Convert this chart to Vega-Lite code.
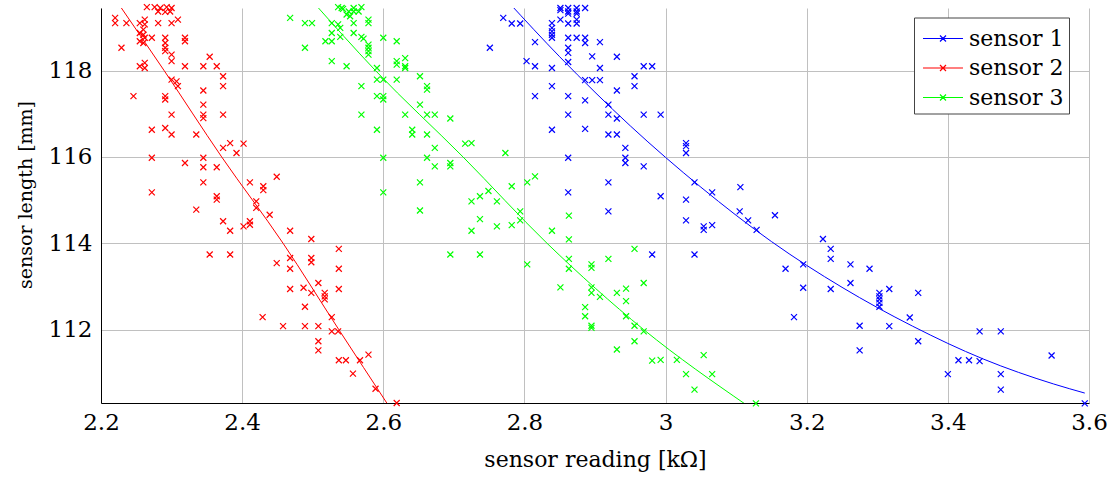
{
  "$schema": "https://vega.github.io/schema/vega-lite/v6.json",
  "width": 988,
  "height": 395,
  "autosize": {"type": "none"},
  "padding": {"left": 101, "top": 8, "right": 27, "bottom": 74},
  "background": "white",
  "config": {"view": {"stroke": null}, "font": "DejaVu Serif"},
  "datasets": {
    "fit": [
      {"s": "sensor 1", "x": 2.776, "y": 119.61}, {"s": "sensor 1", "x": 2.85, "y": 118.32}, {"s": "sensor 1", "x": 2.95, "y": 116.72}, {"s": "sensor 1", "x": 3.05, "y": 115.30}, {"s": "sensor 1", "x": 3.15, "y": 114.04}, {"s": "sensor 1", "x": 3.25, "y": 112.98}, {"s": "sensor 1", "x": 3.35, "y": 112.08}, {"s": "sensor 1", "x": 3.45, "y": 111.32}, {"s": "sensor 1", "x": 3.55, "y": 110.74}, {"s": "sensor 1", "x": 3.594, "y": 110.53},
      {"s": "sensor 2", "x": 2.2226, "y": 119.6}, {"s": "sensor 2", "x": 2.2895, "y": 118.0}, {"s": "sensor 2", "x": 2.371, "y": 116.0}, {"s": "sensor 2", "x": 2.458, "y": 114.0}, {"s": "sensor 2", "x": 2.537, "y": 112.0}, {"s": "sensor 2", "x": 2.607, "y": 110.25},
      {"s": "sensor 3", "x": 2.5, "y": 119.6}, {"s": "sensor 3", "x": 2.589, "y": 118.0}, {"s": "sensor 3", "x": 2.713, "y": 116.0}, {"s": "sensor 3", "x": 2.832, "y": 114.0}, {"s": "sensor 3", "x": 2.969, "y": 112.0}, {"s": "sensor 3", "x": 3.115, "y": 110.25}
    ],
    "pts": [
      {"s": "sensor 1", "x": 2.751, "y": 118.53}, {"s": "sensor 1", "x": 2.770, "y": 119.22}, {"s": "sensor 1", "x": 2.782, "y": 119.09}, {"s": "sensor 1", "x": 2.794, "y": 119.09},
      {"s": "sensor 1", "x": 2.851, "y": 119.45}, {"s": "sensor 1", "x": 2.862, "y": 119.45}, {"s": "sensor 1", "x": 2.874, "y": 119.45}, {"s": "sensor 1", "x": 2.886, "y": 119.45}, {"s": "sensor 1", "x": 2.862, "y": 119.37}, {"s": "sensor 1", "x": 2.874, "y": 119.37}, {"s": "sensor 1", "x": 2.862, "y": 119.32}, {"s": "sensor 1", "x": 2.874, "y": 119.32}, {"s": "sensor 1", "x": 2.851, "y": 119.40},
      {"s": "sensor 1", "x": 2.851, "y": 119.18}, {"s": "sensor 1", "x": 2.862, "y": 119.09}, {"s": "sensor 1", "x": 2.874, "y": 119.18}, {"s": "sensor 1", "x": 2.874, "y": 119.09}, {"s": "sensor 1", "x": 2.839, "y": 119.10}, {"s": "sensor 1", "x": 2.839, "y": 118.99}, {"s": "sensor 1", "x": 2.839, "y": 118.91}, {"s": "sensor 1", "x": 2.839, "y": 118.83}, {"s": "sensor 1", "x": 2.839, "y": 118.76},
      {"s": "sensor 1", "x": 2.815, "y": 118.66}, {"s": "sensor 1", "x": 2.862, "y": 118.76}, {"s": "sensor 1", "x": 2.874, "y": 118.76}, {"s": "sensor 1", "x": 2.886, "y": 118.76}, {"s": "sensor 1", "x": 2.886, "y": 118.64}, {"s": "sensor 1", "x": 2.907, "y": 118.66},
      {"s": "sensor 1", "x": 2.862, "y": 118.53}, {"s": "sensor 1", "x": 2.862, "y": 118.41}, {"s": "sensor 1", "x": 2.896, "y": 118.33}, {"s": "sensor 1", "x": 2.931, "y": 118.32}, {"s": "sensor 1", "x": 2.803, "y": 118.22}, {"s": "sensor 1", "x": 2.815, "y": 118.10}, {"s": "sensor 1", "x": 2.839, "y": 118.06}, {"s": "sensor 1", "x": 2.862, "y": 118.20}, {"s": "sensor 1", "x": 2.907, "y": 118.06}, {"s": "sensor 1", "x": 2.969, "y": 118.10}, {"s": "sensor 1", "x": 2.981, "y": 118.10},
      {"s": "sensor 1", "x": 2.956, "y": 117.87}, {"s": "sensor 1", "x": 2.956, "y": 117.64}, {"s": "sensor 1", "x": 2.886, "y": 117.78}, {"s": "sensor 1", "x": 2.896, "y": 117.78}, {"s": "sensor 1", "x": 2.907, "y": 117.78}, {"s": "sensor 1", "x": 2.839, "y": 117.64}, {"s": "sensor 1", "x": 2.815, "y": 117.41}, {"s": "sensor 1", "x": 2.862, "y": 117.41}, {"s": "sensor 1", "x": 2.886, "y": 117.31}, {"s": "sensor 1", "x": 2.931, "y": 117.54},
      {"s": "sensor 1", "x": 2.919, "y": 117.21}, {"s": "sensor 1", "x": 2.862, "y": 116.98}, {"s": "sensor 1", "x": 2.919, "y": 116.98}, {"s": "sensor 1", "x": 2.931, "y": 116.89}, {"s": "sensor 1", "x": 2.969, "y": 116.98}, {"s": "sensor 1", "x": 2.993, "y": 116.98},
      {"s": "sensor 1", "x": 2.839, "y": 116.63}, {"s": "sensor 1", "x": 2.886, "y": 116.65}, {"s": "sensor 1", "x": 2.919, "y": 116.52}, {"s": "sensor 1", "x": 2.931, "y": 116.52}, {"s": "sensor 1", "x": 2.943, "y": 116.21}, {"s": "sensor 1", "x": 2.943, "y": 115.98}, {"s": "sensor 1", "x": 2.943, "y": 115.86},
      {"s": "sensor 1", "x": 3.029, "y": 116.32}, {"s": "sensor 1", "x": 3.029, "y": 116.25}, {"s": "sensor 1", "x": 3.029, "y": 116.09}, {"s": "sensor 1", "x": 2.969, "y": 115.78}, {"s": "sensor 1", "x": 2.862, "y": 115.98}, {"s": "sensor 1", "x": 2.862, "y": 115.18}, {"s": "sensor 1", "x": 2.919, "y": 115.41}, {"s": "sensor 1", "x": 3.041, "y": 115.41}, {"s": "sensor 1", "x": 3.066, "y": 115.18}, {"s": "sensor 1", "x": 3.106, "y": 115.30}, {"s": "sensor 1", "x": 2.993, "y": 115.09}, {"s": "sensor 1", "x": 3.029, "y": 115.01},
      {"s": "sensor 1", "x": 2.919, "y": 114.74}, {"s": "sensor 1", "x": 3.029, "y": 114.53}, {"s": "sensor 1", "x": 3.054, "y": 114.39}, {"s": "sensor 1", "x": 3.054, "y": 114.31}, {"s": "sensor 1", "x": 3.066, "y": 114.42}, {"s": "sensor 1", "x": 2.981, "y": 113.74}, {"s": "sensor 1", "x": 3.041, "y": 113.74}, {"s": "sensor 1", "x": 3.105, "y": 114.74}, {"s": "sensor 1", "x": 3.117, "y": 114.53}, {"s": "sensor 1", "x": 3.129, "y": 114.31}, {"s": "sensor 1", "x": 3.155, "y": 114.65},
      {"s": "sensor 1", "x": 3.223, "y": 114.10}, {"s": "sensor 1", "x": 3.234, "y": 113.87}, {"s": "sensor 1", "x": 3.234, "y": 113.64}, {"s": "sensor 1", "x": 3.262, "y": 113.51}, {"s": "sensor 1", "x": 3.289, "y": 113.41}, {"s": "sensor 1", "x": 3.170, "y": 113.41}, {"s": "sensor 1", "x": 3.195, "y": 113.51}, {"s": "sensor 1", "x": 3.195, "y": 112.97}, {"s": "sensor 1", "x": 3.234, "y": 112.94}, {"s": "sensor 1", "x": 3.262, "y": 113.08},
      {"s": "sensor 1", "x": 3.303, "y": 112.85}, {"s": "sensor 1", "x": 3.303, "y": 112.77}, {"s": "sensor 1", "x": 3.303, "y": 112.70}, {"s": "sensor 1", "x": 3.303, "y": 112.62}, {"s": "sensor 1", "x": 3.303, "y": 112.53}, {"s": "sensor 1", "x": 3.317, "y": 112.94}, {"s": "sensor 1", "x": 3.182, "y": 112.29}, {"s": "sensor 1", "x": 3.275, "y": 112.09}, {"s": "sensor 1", "x": 3.317, "y": 112.08}, {"s": "sensor 1", "x": 3.275, "y": 111.52},
      {"s": "sensor 1", "x": 3.358, "y": 112.85}, {"s": "sensor 1", "x": 3.346, "y": 112.28}, {"s": "sensor 1", "x": 3.358, "y": 111.73}, {"s": "sensor 1", "x": 3.445, "y": 111.96}, {"s": "sensor 1", "x": 3.475, "y": 111.96}, {"s": "sensor 1", "x": 3.400, "y": 110.97}, {"s": "sensor 1", "x": 3.415, "y": 111.29}, {"s": "sensor 1", "x": 3.430, "y": 111.29}, {"s": "sensor 1", "x": 3.445, "y": 111.27}, {"s": "sensor 1", "x": 3.475, "y": 110.97}, {"s": "sensor 1", "x": 3.475, "y": 110.61}, {"s": "sensor 1", "x": 3.547, "y": 111.40}, {"s": "sensor 1", "x": 3.594, "y": 110.29},

      {"s": "sensor 2", "x": 2.265, "y": 119.47}, {"s": "sensor 2", "x": 2.276, "y": 119.47}, {"s": "sensor 2", "x": 2.284, "y": 119.45}, {"s": "sensor 2", "x": 2.293, "y": 119.47}, {"s": "sensor 2", "x": 2.300, "y": 119.45}, {"s": "sensor 2", "x": 2.281, "y": 119.37}, {"s": "sensor 2", "x": 2.291, "y": 119.36}, {"s": "sensor 2", "x": 2.298, "y": 119.37},
      {"s": "sensor 2", "x": 2.220, "y": 119.22}, {"s": "sensor 2", "x": 2.220, "y": 119.10}, {"s": "sensor 2", "x": 2.236, "y": 119.10}, {"s": "sensor 2", "x": 2.255, "y": 119.10}, {"s": "sensor 2", "x": 2.262, "y": 119.18}, {"s": "sensor 2", "x": 2.262, "y": 119.07}, {"s": "sensor 2", "x": 2.281, "y": 119.10}, {"s": "sensor 2", "x": 2.300, "y": 119.10}, {"s": "sensor 2", "x": 2.309, "y": 119.18},
      {"s": "sensor 2", "x": 2.260, "y": 118.95}, {"s": "sensor 2", "x": 2.260, "y": 118.83}, {"s": "sensor 2", "x": 2.255, "y": 118.87}, {"s": "sensor 2", "x": 2.262, "y": 118.76}, {"s": "sensor 2", "x": 2.272, "y": 118.76}, {"s": "sensor 2", "x": 2.255, "y": 118.68}, {"s": "sensor 2", "x": 2.260, "y": 118.64},
      {"s": "sensor 2", "x": 2.291, "y": 118.76}, {"s": "sensor 2", "x": 2.291, "y": 118.64}, {"s": "sensor 2", "x": 2.291, "y": 118.53}, {"s": "sensor 2", "x": 2.291, "y": 118.45}, {"s": "sensor 2", "x": 2.319, "y": 118.76}, {"s": "sensor 2", "x": 2.319, "y": 118.68}, {"s": "sensor 2", "x": 2.229, "y": 118.53},
      {"s": "sensor 2", "x": 2.300, "y": 118.37}, {"s": "sensor 2", "x": 2.300, "y": 118.22}, {"s": "sensor 2", "x": 2.255, "y": 118.10}, {"s": "sensor 2", "x": 2.262, "y": 118.18}, {"s": "sensor 2", "x": 2.262, "y": 118.06}, {"s": "sensor 2", "x": 2.319, "y": 118.10}, {"s": "sensor 2", "x": 2.345, "y": 118.10}, {"s": "sensor 2", "x": 2.354, "y": 118.32}, {"s": "sensor 2", "x": 2.364, "y": 118.10},
      {"s": "sensor 2", "x": 2.373, "y": 117.87}, {"s": "sensor 2", "x": 2.373, "y": 117.64}, {"s": "sensor 2", "x": 2.300, "y": 117.79}, {"s": "sensor 2", "x": 2.307, "y": 117.75}, {"s": "sensor 2", "x": 2.309, "y": 117.64}, {"s": "sensor 2", "x": 2.345, "y": 117.54}, {"s": "sensor 2", "x": 2.246, "y": 117.41}, {"s": "sensor 2", "x": 2.291, "y": 117.41}, {"s": "sensor 2", "x": 2.291, "y": 117.33},
      {"s": "sensor 2", "x": 2.345, "y": 117.21}, {"s": "sensor 2", "x": 2.345, "y": 116.98}, {"s": "sensor 2", "x": 2.345, "y": 116.90}, {"s": "sensor 2", "x": 2.300, "y": 116.98}, {"s": "sensor 2", "x": 2.373, "y": 116.98}, {"s": "sensor 2", "x": 2.272, "y": 116.63}, {"s": "sensor 2", "x": 2.291, "y": 116.67}, {"s": "sensor 2", "x": 2.300, "y": 116.52}, {"s": "sensor 2", "x": 2.335, "y": 116.52},
      {"s": "sensor 2", "x": 2.383, "y": 116.32}, {"s": "sensor 2", "x": 2.402, "y": 116.31}, {"s": "sensor 2", "x": 2.392, "y": 116.09}, {"s": "sensor 2", "x": 2.373, "y": 116.21}, {"s": "sensor 2", "x": 2.272, "y": 115.98}, {"s": "sensor 2", "x": 2.345, "y": 115.98}, {"s": "sensor 2", "x": 2.345, "y": 115.76}, {"s": "sensor 2", "x": 2.364, "y": 115.76}, {"s": "sensor 2", "x": 2.319, "y": 115.86},
      {"s": "sensor 2", "x": 2.345, "y": 115.41}, {"s": "sensor 2", "x": 2.449, "y": 115.54}, {"s": "sensor 2", "x": 2.411, "y": 115.41}, {"s": "sensor 2", "x": 2.430, "y": 115.32}, {"s": "sensor 2", "x": 2.430, "y": 115.23}, {"s": "sensor 2", "x": 2.272, "y": 115.18}, {"s": "sensor 2", "x": 2.364, "y": 115.09}, {"s": "sensor 2", "x": 2.364, "y": 115.01}, {"s": "sensor 2", "x": 2.420, "y": 114.97}, {"s": "sensor 2", "x": 2.420, "y": 114.82}, {"s": "sensor 2", "x": 2.335, "y": 114.78},
      {"s": "sensor 2", "x": 2.373, "y": 114.51}, {"s": "sensor 2", "x": 2.383, "y": 114.29}, {"s": "sensor 2", "x": 2.402, "y": 114.39}, {"s": "sensor 2", "x": 2.411, "y": 114.43}, {"s": "sensor 2", "x": 2.411, "y": 114.51}, {"s": "sensor 2", "x": 2.439, "y": 114.66}, {"s": "sensor 2", "x": 2.468, "y": 114.29}, {"s": "sensor 2", "x": 2.498, "y": 114.10},
      {"s": "sensor 2", "x": 2.354, "y": 113.74}, {"s": "sensor 2", "x": 2.383, "y": 113.74}, {"s": "sensor 2", "x": 2.449, "y": 113.54}, {"s": "sensor 2", "x": 2.468, "y": 113.66}, {"s": "sensor 2", "x": 2.468, "y": 113.41}, {"s": "sensor 2", "x": 2.498, "y": 113.66}, {"s": "sensor 2", "x": 2.498, "y": 113.56}, {"s": "sensor 2", "x": 2.537, "y": 113.87}, {"s": "sensor 2", "x": 2.537, "y": 113.41},
      {"s": "sensor 2", "x": 2.508, "y": 113.08}, {"s": "sensor 2", "x": 2.468, "y": 112.94}, {"s": "sensor 2", "x": 2.487, "y": 112.97}, {"s": "sensor 2", "x": 2.498, "y": 112.85}, {"s": "sensor 2", "x": 2.517, "y": 112.85}, {"s": "sensor 2", "x": 2.517, "y": 112.77}, {"s": "sensor 2", "x": 2.517, "y": 112.70}, {"s": "sensor 2", "x": 2.537, "y": 112.94}, {"s": "sensor 2", "x": 2.489, "y": 112.53},
      {"s": "sensor 2", "x": 2.527, "y": 112.29}, {"s": "sensor 2", "x": 2.429, "y": 112.29}, {"s": "sensor 2", "x": 2.458, "y": 112.08}, {"s": "sensor 2", "x": 2.489, "y": 112.08}, {"s": "sensor 2", "x": 2.508, "y": 112.08}, {"s": "sensor 2", "x": 2.527, "y": 111.96}, {"s": "sensor 2", "x": 2.536, "y": 111.96}, {"s": "sensor 2", "x": 2.508, "y": 111.73}, {"s": "sensor 2", "x": 2.508, "y": 111.52},
      {"s": "sensor 2", "x": 2.537, "y": 111.29}, {"s": "sensor 2", "x": 2.547, "y": 111.29}, {"s": "sensor 2", "x": 2.567, "y": 111.29}, {"s": "sensor 2", "x": 2.579, "y": 111.42}, {"s": "sensor 2", "x": 2.557, "y": 110.98}, {"s": "sensor 2", "x": 2.589, "y": 110.63}, {"s": "sensor 2", "x": 2.619, "y": 110.30},

      {"s": "sensor 3", "x": 2.468, "y": 119.22}, {"s": "sensor 3", "x": 2.536, "y": 119.47}, {"s": "sensor 3", "x": 2.543, "y": 119.43}, {"s": "sensor 3", "x": 2.551, "y": 119.37}, {"s": "sensor 3", "x": 2.558, "y": 119.37}, {"s": "sensor 3", "x": 2.565, "y": 119.37}, {"s": "sensor 3", "x": 2.569, "y": 119.47}, {"s": "sensor 3", "x": 2.548, "y": 119.30}, {"s": "sensor 3", "x": 2.553, "y": 119.26}, {"s": "sensor 3", "x": 2.541, "y": 119.45}, {"s": "sensor 3", "x": 2.558, "y": 119.45},
      {"s": "sensor 3", "x": 2.489, "y": 119.10}, {"s": "sensor 3", "x": 2.499, "y": 119.10}, {"s": "sensor 3", "x": 2.527, "y": 119.10}, {"s": "sensor 3", "x": 2.536, "y": 119.07}, {"s": "sensor 3", "x": 2.558, "y": 119.10}, {"s": "sensor 3", "x": 2.579, "y": 119.18}, {"s": "sensor 3", "x": 2.579, "y": 119.10},
      {"s": "sensor 3", "x": 2.527, "y": 118.87}, {"s": "sensor 3", "x": 2.539, "y": 118.99}, {"s": "sensor 3", "x": 2.558, "y": 118.87}, {"s": "sensor 3", "x": 2.569, "y": 118.78}, {"s": "sensor 3", "x": 2.572, "y": 118.74}, {"s": "sensor 3", "x": 2.539, "y": 118.78}, {"s": "sensor 3", "x": 2.518, "y": 118.68}, {"s": "sensor 3", "x": 2.527, "y": 118.68},
      {"s": "sensor 3", "x": 2.579, "y": 118.60}, {"s": "sensor 3", "x": 2.579, "y": 118.53}, {"s": "sensor 3", "x": 2.579, "y": 118.45}, {"s": "sensor 3", "x": 2.579, "y": 118.37}, {"s": "sensor 3", "x": 2.489, "y": 118.53}, {"s": "sensor 3", "x": 2.527, "y": 118.22}, {"s": "sensor 3", "x": 2.548, "y": 118.10},
      {"s": "sensor 3", "x": 2.600, "y": 118.76}, {"s": "sensor 3", "x": 2.619, "y": 118.68}, {"s": "sensor 3", "x": 2.619, "y": 118.22}, {"s": "sensor 3", "x": 2.619, "y": 118.14}, {"s": "sensor 3", "x": 2.631, "y": 118.29}, {"s": "sensor 3", "x": 2.631, "y": 118.10}, {"s": "sensor 3", "x": 2.631, "y": 118.06}, {"s": "sensor 3", "x": 2.591, "y": 118.06},
      {"s": "sensor 3", "x": 2.591, "y": 117.79}, {"s": "sensor 3", "x": 2.600, "y": 117.79}, {"s": "sensor 3", "x": 2.619, "y": 117.79}, {"s": "sensor 3", "x": 2.652, "y": 117.87}, {"s": "sensor 3", "x": 2.569, "y": 117.64}, {"s": "sensor 3", "x": 2.591, "y": 117.41}, {"s": "sensor 3", "x": 2.600, "y": 117.41}, {"s": "sensor 3", "x": 2.600, "y": 117.33}, {"s": "sensor 3", "x": 2.662, "y": 117.64}, {"s": "sensor 3", "x": 2.662, "y": 117.56}, {"s": "sensor 3", "x": 2.652, "y": 117.21},
      {"s": "sensor 3", "x": 2.569, "y": 116.98}, {"s": "sensor 3", "x": 2.631, "y": 116.98}, {"s": "sensor 3", "x": 2.662, "y": 116.98}, {"s": "sensor 3", "x": 2.673, "y": 116.98}, {"s": "sensor 3", "x": 2.695, "y": 116.89}, {"s": "sensor 3", "x": 2.591, "y": 116.63}, {"s": "sensor 3", "x": 2.641, "y": 116.63}, {"s": "sensor 3", "x": 2.641, "y": 116.52}, {"s": "sensor 3", "x": 2.662, "y": 116.52},
      {"s": "sensor 3", "x": 2.673, "y": 116.21}, {"s": "sensor 3", "x": 2.716, "y": 116.31}, {"s": "sensor 3", "x": 2.725, "y": 116.32}, {"s": "sensor 3", "x": 2.773, "y": 116.09}, {"s": "sensor 3", "x": 2.600, "y": 115.98}, {"s": "sensor 3", "x": 2.662, "y": 115.98}, {"s": "sensor 3", "x": 2.673, "y": 115.78}, {"s": "sensor 3", "x": 2.695, "y": 115.86}, {"s": "sensor 3", "x": 2.695, "y": 115.78},
      {"s": "sensor 3", "x": 2.652, "y": 115.41}, {"s": "sensor 3", "x": 2.600, "y": 115.18}, {"s": "sensor 3", "x": 2.725, "y": 114.97}, {"s": "sensor 3", "x": 2.737, "y": 115.09}, {"s": "sensor 3", "x": 2.749, "y": 115.21}, {"s": "sensor 3", "x": 2.761, "y": 114.97}, {"s": "sensor 3", "x": 2.782, "y": 115.32}, {"s": "sensor 3", "x": 2.652, "y": 114.76}, {"s": "sensor 3", "x": 2.737, "y": 114.56}, {"s": "sensor 3", "x": 2.804, "y": 115.41}, {"s": "sensor 3", "x": 2.815, "y": 115.55},
      {"s": "sensor 3", "x": 2.695, "y": 113.74}, {"s": "sensor 3", "x": 2.737, "y": 113.74}, {"s": "sensor 3", "x": 2.725, "y": 114.29}, {"s": "sensor 3", "x": 2.761, "y": 114.39}, {"s": "sensor 3", "x": 2.782, "y": 114.42}, {"s": "sensor 3", "x": 2.794, "y": 114.74}, {"s": "sensor 3", "x": 2.794, "y": 114.53}, {"s": "sensor 3", "x": 2.839, "y": 114.29}, {"s": "sensor 3", "x": 2.863, "y": 114.64}, {"s": "sensor 3", "x": 2.863, "y": 114.09},
      {"s": "sensor 3", "x": 2.804, "y": 113.51}, {"s": "sensor 3", "x": 2.863, "y": 113.64}, {"s": "sensor 3", "x": 2.863, "y": 113.41}, {"s": "sensor 3", "x": 2.895, "y": 113.51}, {"s": "sensor 3", "x": 2.895, "y": 113.43}, {"s": "sensor 3", "x": 2.919, "y": 113.64}, {"s": "sensor 3", "x": 2.956, "y": 113.87},
      {"s": "sensor 3", "x": 2.851, "y": 112.98}, {"s": "sensor 3", "x": 2.895, "y": 112.98}, {"s": "sensor 3", "x": 2.895, "y": 112.85}, {"s": "sensor 3", "x": 2.907, "y": 112.76}, {"s": "sensor 3", "x": 2.931, "y": 112.85}, {"s": "sensor 3", "x": 2.944, "y": 112.95}, {"s": "sensor 3", "x": 2.944, "y": 112.66}, {"s": "sensor 3", "x": 2.969, "y": 113.08},
      {"s": "sensor 3", "x": 2.886, "y": 112.52}, {"s": "sensor 3", "x": 2.886, "y": 112.31}, {"s": "sensor 3", "x": 2.895, "y": 112.09}, {"s": "sensor 3", "x": 2.895, "y": 112.04}, {"s": "sensor 3", "x": 2.944, "y": 112.31}, {"s": "sensor 3", "x": 2.956, "y": 112.09}, {"s": "sensor 3", "x": 2.969, "y": 111.96}, {"s": "sensor 3", "x": 2.956, "y": 111.73}, {"s": "sensor 3", "x": 2.931, "y": 111.54},
      {"s": "sensor 3", "x": 2.981, "y": 111.28}, {"s": "sensor 3", "x": 2.993, "y": 111.30}, {"s": "sensor 3", "x": 3.016, "y": 111.30}, {"s": "sensor 3", "x": 3.054, "y": 111.41}, {"s": "sensor 3", "x": 3.029, "y": 110.97}, {"s": "sensor 3", "x": 3.066, "y": 110.97}, {"s": "sensor 3", "x": 3.041, "y": 110.61}, {"s": "sensor 3", "x": 3.128, "y": 110.29}
    ]
  },
  "layer": [
    {
      "data": {"name": "fit"},
      "mark": {"type": "line", "clip": true, "strokeWidth": 1, "interpolate": "monotone"},
      "encoding": {
        "x": {
          "field": "x", "type": "quantitative",
          "scale": {"domain": [2.2, 3.6], "nice": false, "zero": false},
          "axis": {
            "values": [2.2, 2.4, 2.6, 2.8, 3, 3.2, 3.4, 3.6], "format": "~g",
            "title": "sensor reading [kΩ]", "titleFont": "DejaVu Serif", "titleFontSize": 22, "titleFontWeight": "normal", "titleColor": "black",
            "titleBaseline": "alphabetic", "titleY": 63.5,
            "labelFont": "DejaVu Serif", "labelFontSize": 23, "labelColor": "black", "labelFlush": false, "labelOverlap": false, "labelBound": false,
            "labelBaseline": "alphabetic", "labelPadding": 26.5,
            "ticks": false, "tickSize": 0,
            "grid": true, "gridColor": "#c0c0c0", "gridWidth": 1,
            "domainColor": "black", "domainWidth": 1
          }
        },
        "y": {
          "field": "y", "type": "quantitative",
          "scale": {"domain": [110.3, 119.45], "nice": false, "zero": false},
          "axis": {
            "values": [112, 114, 116, 118],
            "title": "sensor length [mm]", "titleFont": "DejaVu Serif", "titleFontSize": 19, "titleFontWeight": "normal", "titleColor": "black",
            "titleBaseline": "alphabetic", "titleX": -69.5, "titleY": 186.5,
            "labelFont": "DejaVu Serif", "labelFontSize": 23, "labelColor": "black", "labelOverlap": false, "labelPadding": 9,
            "ticks": false, "tickSize": 0,
            "grid": true, "gridColor": "#c0c0c0", "gridWidth": 1,
            "domainColor": "black", "domainWidth": 1
          }
        },
        "stroke": {
          "field": "s", "type": "nominal",
          "scale": {"domain": ["sensor 1", "sensor 2", "sensor 3"], "range": ["#0000ff", "#ff0000", "#00ff00"]},
          "legend": {
            "orient": "none", "legendX": 813, "legendY": 9.5, "title": null,
            "symbolType": "M-1.333,0L1.333,0M-0.2,-0.2L0.2,0.2M-0.2,0.2L0.2,-0.2",
            "symbolSize": 900, "symbolStrokeWidth": 1.2, "symbolOffset": 8,
            "labelFont": "DejaVu Serif", "labelFontSize": 22, "labelColor": "black", "labelOffset": 10,
            "padding": 5, "rowPadding": 2.5,
            "fillColor": "white", "strokeColor": "#444444",
            "encode": {"symbols": {"update": {"stroke": {"signal": "datum.value === 'sensor 1' ? '#2b2bff' : datum.value === 'sensor 2' ? '#ff0000' : '#00ff00'"}, "fill": {"value": "transparent"}, "opacity": {"value": 1}, "strokeOpacity": {"value": 1}}}}
          }
        }
      }
    },
    {
      "data": {"name": "pts"},
      "mark": {"type": "point", "shape": "M-1,-1L1,1M-1,1L1,-1", "filled": false, "size": 36, "strokeWidth": 1.2, "opacity": 1, "clip": false},
      "encoding": {
        "x": {"field": "x", "type": "quantitative"},
        "y": {"field": "y", "type": "quantitative"},
        "stroke": {
          "field": "s", "type": "nominal",
          "legend": {
            "orient": "none", "legendX": 813, "legendY": 9.5, "title": null,
            "symbolType": "M-1.333,0L1.333,0M-0.2,-0.2L0.2,0.2M-0.2,0.2L0.2,-0.2",
            "symbolSize": 900, "symbolStrokeWidth": 1.2, "symbolOffset": 8,
            "labelFont": "DejaVu Serif", "labelFontSize": 22, "labelColor": "black", "labelOffset": 10,
            "padding": 5, "rowPadding": 2.5,
            "fillColor": "white", "strokeColor": "#444444",
            "encode": {"symbols": {"update": {"stroke": {"signal": "datum.value === 'sensor 1' ? '#2b2bff' : datum.value === 'sensor 2' ? '#ff0000' : '#00ff00'"}, "fill": {"value": "transparent"}, "opacity": {"value": 1}, "strokeOpacity": {"value": 1}}}}
          }
        }
      }
    }
  ]
}
